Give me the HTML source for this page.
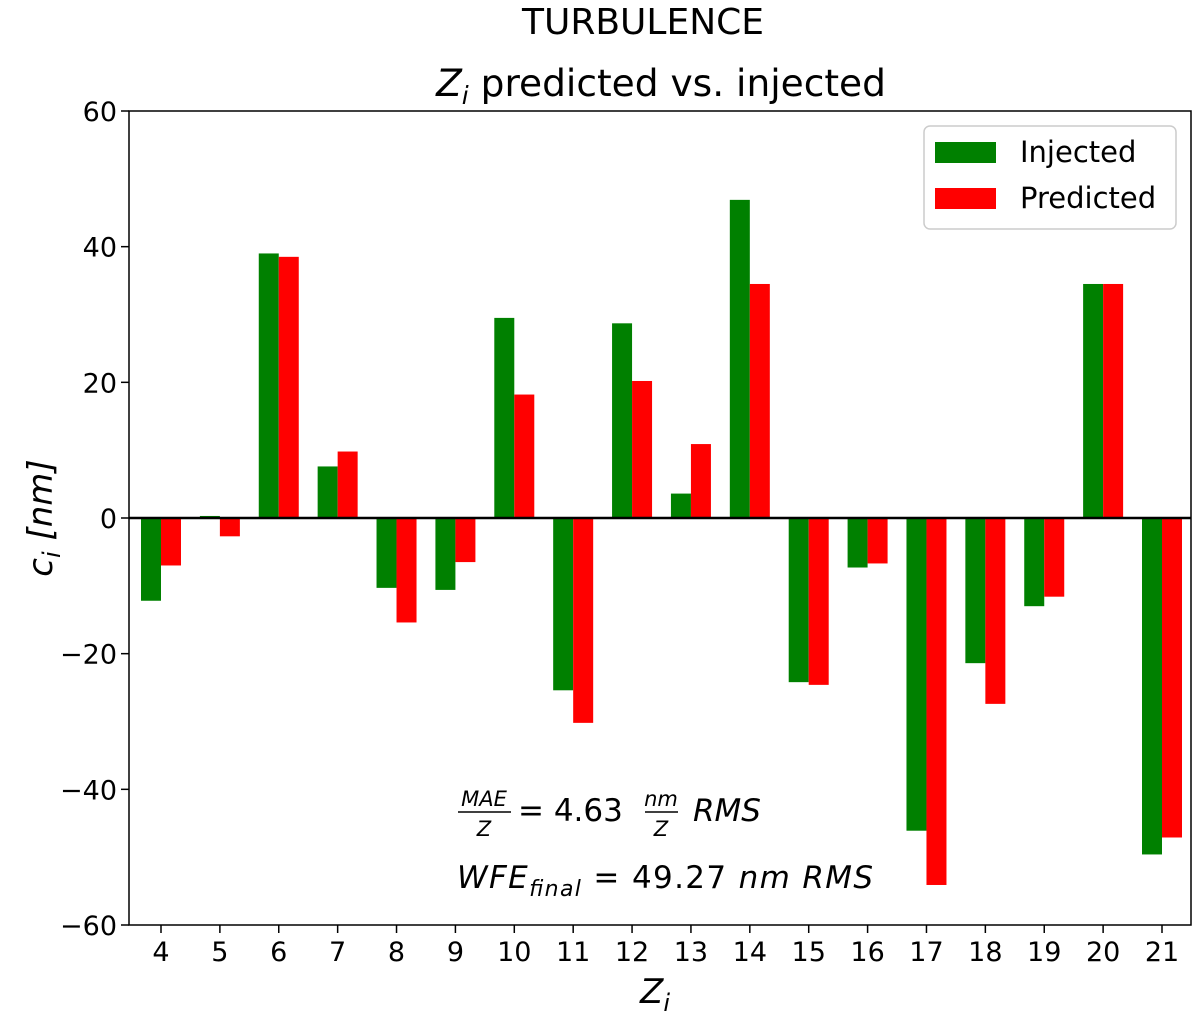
<!DOCTYPE html>
<html><head><meta charset="utf-8"><style>
html,body{margin:0;padding:0;background:#fff;}
svg{display:block;font-family:"DejaVu Sans","Liberation Sans",sans-serif;}
</style></head><body>
<svg id="chart" width="1200" height="1019" viewBox="0 0 1200 1019">
<text x="643" y="34" font-size="36" text-anchor="middle">TURBULENCE</text>
<text x="661" y="96" font-size="37.5" text-anchor="middle"><tspan font-style="italic">Z</tspan><tspan font-style="italic" font-size="25" dy="8">i</tspan><tspan dy="-8"> predicted vs. injected</tspan></text>
<g id="bars"></g>
<g id="axes"></g>
<text x="0" y="0" font-size="34" font-style="italic" text-anchor="middle" transform="translate(52,518) rotate(-90)">c<tspan font-size="24" dy="8">i</tspan><tspan dy="-8"> [nm]</tspan></text>
<text x="655" y="1003" font-size="34" font-style="italic" text-anchor="middle">Z<tspan font-size="24" dy="8">i</tspan></text>
<g font-style="italic" font-size="31">
<text x="484" y="806" font-size="21" text-anchor="middle">MAE</text>
<line x1="458" y1="812" x2="511" y2="812" stroke="#000" stroke-width="1.5"/>
<text x="484" y="836" font-size="21" text-anchor="middle">Z</text>
<text x="518" y="821" font-style="normal">= 4.63</text>
<text x="661" y="806" font-size="21" text-anchor="middle">nm</text>
<line x1="645" y1="812" x2="678" y2="812" stroke="#000" stroke-width="1.5"/>
<text x="661" y="836" font-size="21" text-anchor="middle">Z</text>
<text x="693" y="821">RMS</text>
</g>
<text x="457" y="888" font-size="31" font-style="italic" textLength="416">WFE<tspan font-size="22" dy="8">final</tspan><tspan dy="-8" font-style="normal"> = 49.27 </tspan>nm RMS</text>
<g>
<rect x="924" y="126" width="252" height="103" rx="6" fill="#fff" stroke="#ccc" stroke-width="1.5"/>
<rect x="935" y="142" width="61" height="21" fill="#008000"/>
<text x="1020" y="162" font-size="29">Injected</text>
<rect x="935" y="188" width="61" height="21" fill="#ff0000"/>
<text x="1020" y="208" font-size="29">Predicted</text>
</g>
</svg>
<script>
const categories=[4,5,6,7,8,9,10,11,12,13,14,15,16,17,18,19,20,21];
const injected=[-12.2,0.3,39,7.6,-10.3,-10.6,29.5,-25.4,28.7,3.6,46.9,-24.2,-7.3,-46.1,-21.4,-13,34.5,-49.6];
const predicted=[-7,-2.7,38.5,9.8,-15.4,-6.5,18.2,-30.2,20.2,10.9,34.5,-24.6,-6.7,-54.1,-27.4,-11.6,34.5,-47.1];
const yTicks=[-60,-40,-20,0,20,40,60];
const L=129,R=1191,T=111,B=925;
const NS='http://www.w3.org/2000/svg';
function y(v){return T+(60-v)/120*(B-T);}
function x(i){return 161+i*(1162-161)/17;}
const bw=20;
function mk(tag,attrs,parent){const e=document.createElementNS(NS,tag);for(const k in attrs)e.setAttribute(k,attrs[k]);parent.appendChild(e);return e;}
const bars=document.getElementById('bars'),axes=document.getElementById('axes');
categories.forEach((c,i)=>{
  const g=injected[i],p=predicted[i];
  let r=mk('rect',{x:x(i)-bw,y:Math.min(y(g),y(0)),width:bw,height:Math.abs(y(g)-y(0)),fill:'#008000'},bars);
  
  
  r=mk('rect',{x:x(i),y:Math.min(y(p),y(0)),width:bw,height:Math.abs(y(p)-y(0)),fill:'#ff0000'},bars);
  
  
  mk('line',{x1:x(i),x2:x(i),y1:B,y2:B+8,stroke:'#000','stroke-width':1.5},axes);
  const t=mk('text',{x:x(i),y:B+36,'font-size':27,'text-anchor':'middle'},axes);
  t.textContent=c;
  
  
});
const zl=mk('line',{x1:L,x2:R,y1:y(0),y2:y(0),stroke:'#000','stroke-width':2.5},axes);


yTicks.forEach(v=>{
  mk('line',{x1:L-8,x2:L,y1:y(v),y2:y(v),stroke:'#000','stroke-width':1.5},axes);
  const t=mk('text',{x:L-12,y:y(v)+10,'font-size':27,'text-anchor':'end'},axes);
  t.textContent=v<0?'\u2212'+Math.abs(v):v;
  
  
});
const fr=mk('rect',{x:L,y:T,width:R-L,height:B-T,fill:'none',stroke:'#000','stroke-width':1.5},axes);


</script>
</body></html>
